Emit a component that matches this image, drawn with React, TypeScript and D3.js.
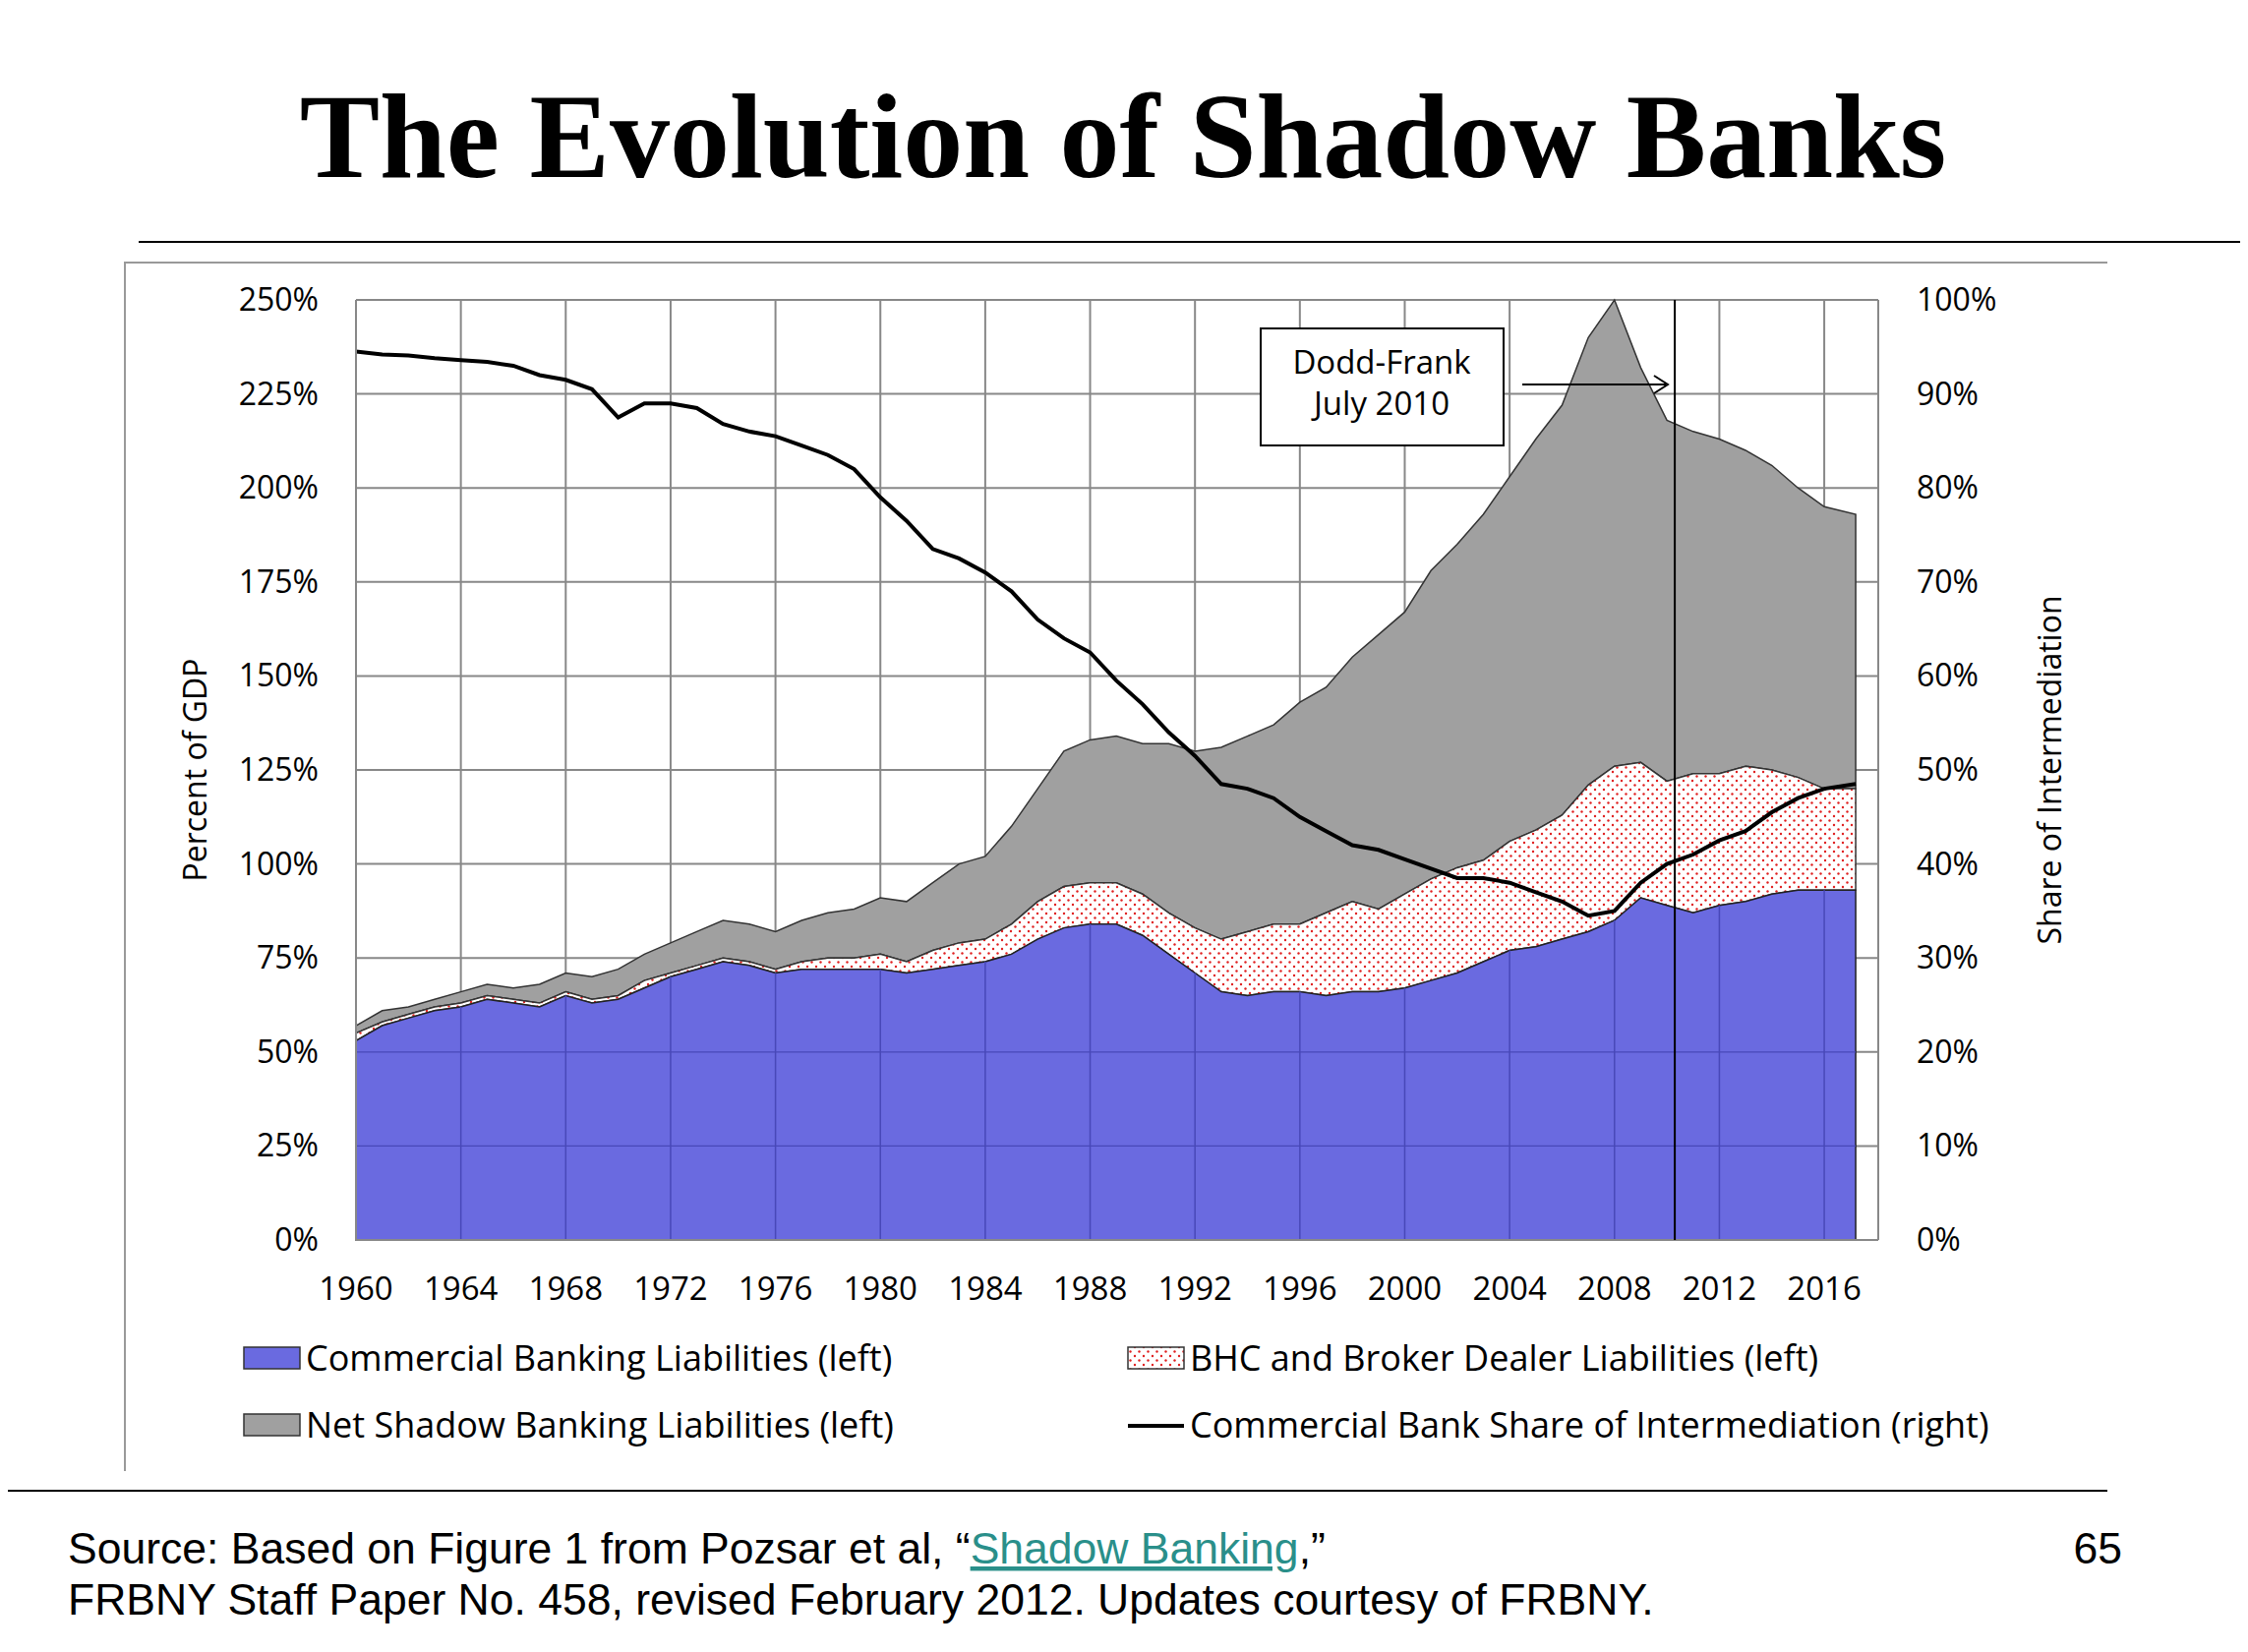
import * as d3 from 'd3'

const years = d3.range(1960, 2017).concat([2017.2])
const commercial = [53,57,59,61,62,64,63,62,65,63,64,67,70,72,74,73,71,72,72,72,72,71,72,73,74,76,80,83,84,84,81,76,71,66,65,66,66,65,66,66,67,69,71,74,77,78,80,82,85,91,89,87,89,90,92,93,93,93]
const bhcTop = [55,58,60,62,63,65,64,63,66,64,65,69,71,73,75,74,72,74,75,75,76,74,77,79,80,84,90,94,95,95,92,87,83,80,82,84,84,87,90,88,92,96,99,101,106,109,113,121,126,127,122,124,124,126,125,123,120,120]
const totalTop = [57,61,62,64,66,68,67,68,71,70,72,76,79,82,85,84,82,85,87,88,91,90,95,100,102,110,120,130,133,134,132,132,130,131,134,137,143,147,155,161,167,178,185,193,203,213,222,240,250,232,218,215,213,210,206,200,195,193]
const share = [94.5,94.2,94.1,93.8,93.6,93.4,93,92,91.5,90.5,87.5,89,89,88.5,86.8,86,85.5,84.5,83.5,82,79,76.5,73.5,72.5,71,69,66,64,62.5,59.5,57,54,51.5,48.5,48,47,45,43.5,42,41.5,40.5,39.5,38.5,38.5,38,37,36,34.5,35,38,40,41,42.5,43.5,45.5,47,48,48.5]
const leftTicks = [0,25,50,75,100,125,150,175,200,225,250]
const rightTicks = [0,10,20,30,40,50,60,70,80,90,100]
const yearTicks = d3.range(1960, 2017, 4)

const W = 2286, H = 1680
const x = d3.scaleLinear().domain([1960, 2018.06]).range([362, 1910])
const yL = d3.scaleLinear().domain([0, 250]).range([1261, 305])
const yR = d3.scaleLinear().domain([0, 100]).range([1261, 305])
const font = '"Open Sans", sans-serif'
const sans = '"Liberation Sans", Arial, sans-serif'

export default function App() {
  const area = (lo: (i: number) => number, hi: (i: number) => number) =>
    d3.area<number>().x((_, i) => x(years[i])).y0((_, i) => yL(lo(i))).y1((_, i) => yL(hi(i)))(years) || ''
  const line = d3.line<number>().x((_, i) => x(years[i])).y(d => yR(d))(share) || ''
  const legend = [
    { lx: 248, ly: 1394, t: 'Commercial Banking Liabilities (left)', k: 'blue' },
    { lx: 1147, ly: 1394, t: 'BHC and Broker Dealer Liabilities (left)', k: 'dots' },
    { lx: 248, ly: 1462, t: 'Net Shadow Banking Liabilities (left)', k: 'gray' },
    { lx: 1147, ly: 1462, t: 'Commercial Bank Share of Intermediation (right)', k: 'line' },
  ]
  return (
    <svg width={W} height={H} style={{ display: 'block', margin: -8 }}>
      <defs>
        <pattern id="dots" width="9" height="9" patternUnits="userSpaceOnUse">
          <rect width="9" height="9" fill="#fff" />
          <circle cx="2" cy="2" r="1.2" fill="#e02020" />
          <circle cx="6.5" cy="6.5" r="1.2" fill="#e02020" />
        </pattern>
      </defs>
      <rect width={W} height={H} fill="#fff" />
      <text x={1142} y={180} textAnchor="middle" fontFamily='"Liberation Serif", serif' fontWeight="bold" fontSize={122}>The Evolution of Shadow Banks</text>
      <line x1={141} x2={W} y1={246} y2={246} stroke="#000" strokeWidth={2} />
      <path d="M127,1496 V267 H2143" fill="none" stroke="#999" strokeWidth={2} />
      <line x1={0} x2={2143} y1={1516} y2={1516} stroke="#000" strokeWidth={2} />

      {leftTicks.map(t => <line key={t} x1={362} x2={1910} y1={yL(t)} y2={yL(t)} stroke="#888" strokeWidth={2} />)}
      {yearTicks.map(t => <line key={t} x1={x(t)} x2={x(t)} y1={305} y2={1261} stroke="#888" strokeWidth={2} />)}
      <line x1={1910} x2={1910} y1={305} y2={1261} stroke="#888" strokeWidth={2} />

      <path d={area(i => bhcTop[i], i => totalTop[i])} fill="#a0a0a0" stroke="#333" strokeWidth={1.5} />
      <path d={area(i => commercial[i], i => bhcTop[i])} fill="url(#dots)" stroke="#333" strokeWidth={1.5} />
      <path d={area(() => 0, i => commercial[i])} fill="#6a6ae0" stroke="#222" strokeWidth={1.5} />
      {yearTicks.map(t => <line key={'b' + t} x1={x(t)} x2={x(t)} y1={yL(0)} y2={yL(commercial[years.indexOf(t)])} stroke="#4848b8" strokeWidth={1.5} />)}
      {[25, 50].map(t => <line key={'h' + t} x1={362} x2={x(2017.2)} y1={yL(t)} y2={yL(t)} stroke="#4848b8" strokeWidth={1.2} />)}
      <path d={line} fill="none" stroke="#000" strokeWidth={4} />

      <line x1={362} x2={1910} y1={1261} y2={1261} stroke="#888" strokeWidth={2} />
      <line x1={362} x2={362} y1={305} y2={1261} stroke="#888" strokeWidth={2} />
      <line x1={x(2010.3)} x2={x(2010.3)} y1={305} y2={1261} stroke="#000" strokeWidth={2} />

      {leftTicks.map(t => <text key={t} x={324} y={yL(t) + 11} textAnchor="end" fontFamily={font} fontSize={32}>{t}%</text>)}
      {rightTicks.map(t => <text key={t} x={1949} y={yR(t) + 11} fontFamily={font} fontSize={32}>{t}%</text>)}
      {yearTicks.map(t => <text key={t} x={x(t)} y={1322} textAnchor="middle" fontFamily={font} fontSize={33}>{t}</text>)}
      <text transform="translate(210,783) rotate(-90)" textAnchor="middle" fontFamily={font} fontSize={32}>Percent of GDP</text>
      <text transform="translate(2096,783) rotate(-90)" textAnchor="middle" fontFamily={font} fontSize={32}>Share of Intermediation</text>

      <rect x={1282} y={334} width={247} height={119} fill="#fff" stroke="#000" strokeWidth={2} />
      <text x={1405} y={380} textAnchor="middle" fontFamily={font} fontSize={33}>Dodd-Frank</text>
      <text x={1405} y={422} textAnchor="middle" fontFamily={font} fontSize={33}>July 2010</text>
      <line x1={1548} x2={1694} y1={391} y2={391} stroke="#000" strokeWidth={2} />
      <path d="M1682,382 L1696,391 L1682,400" fill="none" stroke="#000" strokeWidth={2} />

      {legend.map(l => (
        <g key={l.t}>
          {l.k === 'line'
            ? <line x1={l.lx} x2={l.lx + 57} y1={l.ly - 12} y2={l.ly - 12} stroke="#000" strokeWidth={4} />
            : <rect x={l.lx} y={l.ly - 24} width={57} height={22} stroke="#333" strokeWidth={1.5}
                fill={l.k === 'blue' ? '#6a6ae0' : l.k === 'gray' ? '#a0a0a0' : 'url(#dots)'} />}
          <text x={l.lx + 63} y={l.ly} fontFamily={font} fontSize={36}>{l.t}</text>
        </g>
      ))}

      <text x={69} y={1590} fontFamily={sans} fontSize={44.5}>
        Source: Based on Figure 1 from Pozsar et al, “<tspan fill="#2a8f8a" textDecoration="underline">Shadow Banking</tspan>,”
      </text>
      <text x={69} y={1642} fontFamily={sans} fontSize={44.5}>FRBNY Staff Paper No. 458, revised February 2012. Updates courtesy of FRBNY.</text>
      <text x={2158} y={1590} textAnchor="end" fontFamily={sans} fontSize={44.5}>65</text>
    </svg>
  )
}
